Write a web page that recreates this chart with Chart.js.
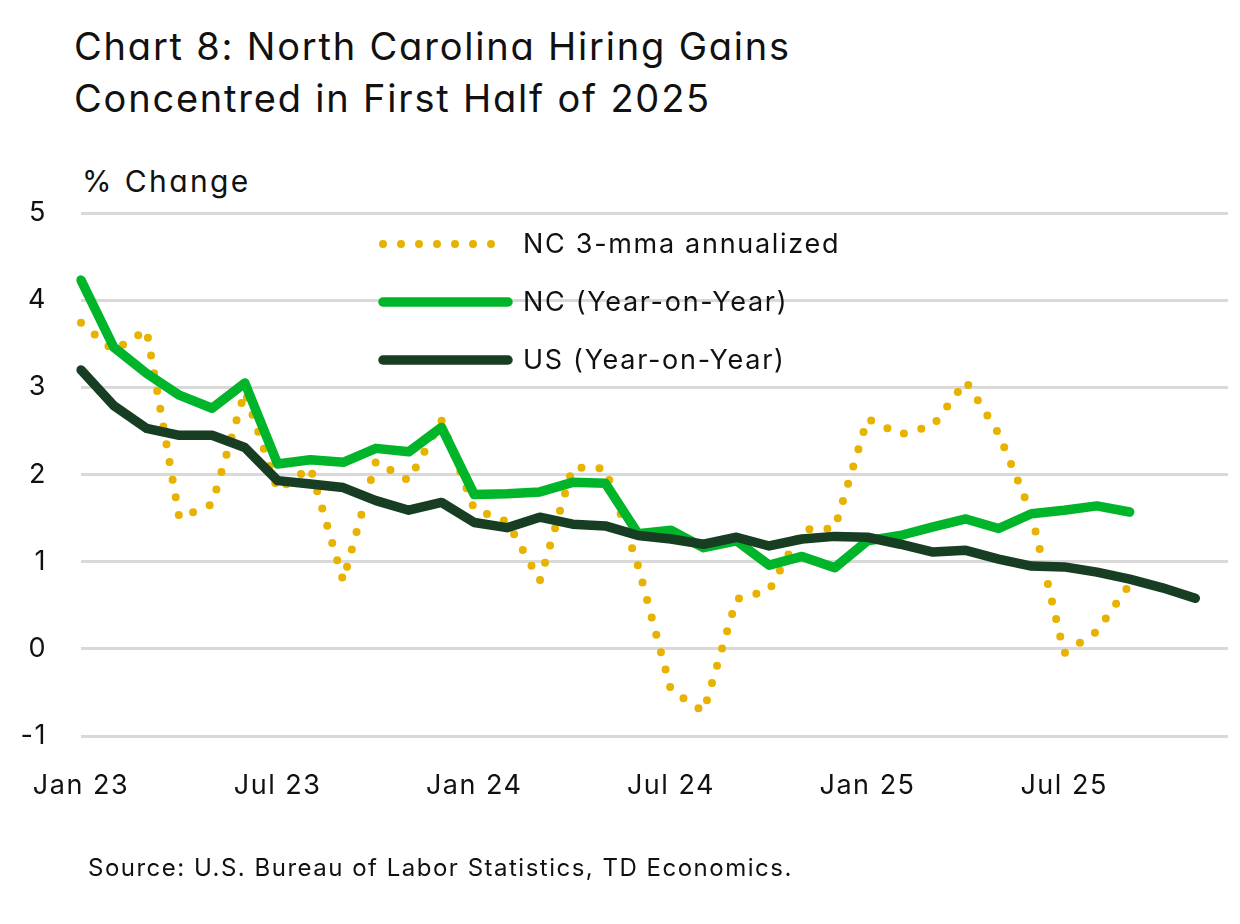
<!DOCTYPE html>
<html lang="en">
<head>
    <meta charset="UTF-8">
    <title>Chart 8: North Carolina Hiring Gains</title>
    <style>
        body{
            margin:0;
            background:#fff;
            font-family:Inter, "Open Sans", sans-serif;
            color:#111;
        }
        #wrap{
            position:relative;
            width:1240px;
            height:924px;
        }
        #chart{
            position:absolute;
            left:0;
            top:0;
        }
        .title{
            position:absolute;
            left:74px;
            top:20px;
            font-size:38px;
            line-height:52px;
            letter-spacing:1.8px;
            font-feature-settings:"cv11";
        }
        .unit{
            position:absolute;
            left:82px;
            top:163px;
            font-size:30px;
            letter-spacing:2.4px;
            font-feature-settings:"cv11";
        }
        .source{
            position:absolute;
            left:88px;
            top:853px;
            font-size:24px;
            letter-spacing:1.5px;
        }
    </style>
    <script src="https://cdn.jsdelivr.net/npm/chart.js"></script>
</head>
<body>
<div id="wrap">
    <div class="title">Chart 8: North Carolina Hiring Gains<br>Concentred in First Half of 2025</div>
    <div class="unit">% Change</div>
    <canvas id="chart" width="1240" height="924"></canvas>
    <div class="source">Source: U.S. Bureau of Labor Statistics, TD Economics.</div>
</div>
<script>
    // months Jan 23 .. Dec 25
    const months = [
        'Jan 23','Feb 23','Mar 23','Apr 23','May 23','Jun 23','Jul 23','Aug 23','Sep 23','Oct 23','Nov 23','Dec 23',
        'Jan 24','Feb 24','Mar 24','Apr 24','May 24','Jun 24','Jul 24','Aug 24','Sep 24','Oct 24','Nov 24','Dec 24',
        'Jan 25','Feb 25','Mar 25','Apr 25','May 25','Jun 25','Jul 25','Aug 25','Sep 25','Oct 25','Nov 25','Dec 25'
    ];
    const yTicks = [-1, 0, 1, 2, 3, 4, 5];

    const nc3mma = [3.74, 3.42, 3.66, 1.50, 1.66, 2.95, 1.82, 2.08, 0.78, 2.15, 1.93, 2.62,
                    1.60, 1.46, 0.78, 2.08, 2.07, 0.95, -0.47, -0.72, 0.57, 0.67, 1.37, 1.38,
                    2.64, 2.46, 2.56, 3.07, 2.47, 1.55, -0.05, 0.20, 0.74];
    const ncYoY = [4.23, 3.46, 3.16, 2.91, 2.76, 3.05, 2.12, 2.17, 2.14, 2.30, 2.26, 2.54,
                   1.77, 1.78, 1.80, 1.91, 1.90, 1.32, 1.36, 1.16, 1.24, 0.96, 1.06, 0.93,
                   1.24, 1.30, 1.40, 1.49, 1.38, 1.55, 1.59, 1.64, 1.57];
    const usYoY = [3.20, 2.79, 2.53, 2.45, 2.45, 2.31, 1.93, 1.89, 1.85, 1.70, 1.59, 1.68,
                   1.45, 1.39, 1.51, 1.43, 1.41, 1.30, 1.26, 1.20, 1.28, 1.18, 1.26, 1.29,
                   1.28, 1.20, 1.11, 1.13, 1.03, 0.95, 0.94, 0.88, 0.80, 0.70, 0.58];

    const GOLD = '#E8B300';
    const GREEN = '#00B52A';
    const DARK = '#173E22';
    const FONT = 'Inter, "Open Sans", sans-serif';

    // wider letter spacing for all canvas text
    const spacing = {
        id: 'spacing',
        beforeDraw(chart) { chart.ctx.letterSpacing = '1.5px'; }
    };

    // legend drawn inside the plot, one item per row
    const insideLegend = {
        id: 'insideLegend',
        afterDatasetsDraw(chart) {
            const ctx = chart.ctx;
            const x0 = 383, x1 = 508, tx = 523;
            const rows = [244, 302, 360];
            ctx.save();
            chart.data.datasets.forEach((ds, i) => {
                const y = rows[i];
                ctx.beginPath();
                ctx.strokeStyle = ds.borderColor;
                ctx.lineWidth = ds.borderWidth;
                ctx.lineCap = 'round';
                ctx.setLineDash(ds.borderDash || []);
                ctx.moveTo(x0, y);
                ctx.lineTo(ds.borderDash ? 492 : x1, y);
                ctx.stroke();
                ctx.setLineDash([]);
                ctx.fillStyle = '#111';
                ctx.font = '27px ' + FONT;
                ctx.letterSpacing = '1.7px';
                ctx.textBaseline = 'middle';
                ctx.fillText(ds.label, tx, y + 1);
            });
            ctx.restore();
        }
    };

    new Chart(document.getElementById('chart'), {
        type: 'line',
        data: {
            labels: months,
            datasets: [
                {
                    label: 'NC 3-mma annualized',
                    data: nc3mma,
                    borderColor: GOLD,
                    borderWidth: 8,
                    borderDash: [0, 18],
                    borderCapStyle: 'round',
                    pointRadius: 0,
                    order: 3
                },
                {
                    label: 'NC (Year-on-Year)',
                    data: ncYoY,
                    borderColor: GREEN,
                    borderWidth: 9.5,
                    borderCapStyle: 'round',
                    borderJoinStyle: 'round',
                    pointRadius: 0,
                    order: 2
                },
                {
                    label: 'US (Year-on-Year)',
                    data: usYoY,
                    borderColor: DARK,
                    borderWidth: 9.5,
                    borderCapStyle: 'round',
                    borderJoinStyle: 'round',
                    pointRadius: 0,
                    order: 1
                }
            ]
        },
        options: {
            responsive: false,
            animation: false,
            layout: {
                padding: { top: 213, right: 12, bottom: 118, left: 0 }
            },
            plugins: {
                legend: { display: false },
                tooltip: { enabled: false }
            },
            scales: {
                x: {
                    offset: false,
                    grid: { display: false },
                    border: { display: false },
                    afterFit: (s) => { s.height = 70; s.paddingLeft = 0; s.paddingRight = 0; },
                    ticks: {
                        autoSkip: false,
                        maxRotation: 0,
                        padding: 26,
                        color: '#111',
                        font: { family: FONT, size: 27 },
                        callback: (v, i) => (i % 6 === 0 ? months[i] : '')
                    }
                },
                y: {
                    min: yTicks[0],
                    max: yTicks[yTicks.length - 1],
                    afterFit: (s) => { s.width = 81; },
                    afterBuildTicks: (s) => { s.ticks = yTicks.map(v => ({ value: v })); },
                    grid: { color: '#D9D9D9', lineWidth: 3, drawTicks: false },
                    border: { display: false },
                    ticks: {
                        padding: 34,
                        color: '#111',
                        font: { family: FONT, size: 27 }
                    }
                }
            }
        },
        plugins: [spacing, insideLegend]
    });
</script>
</body>
</html>
